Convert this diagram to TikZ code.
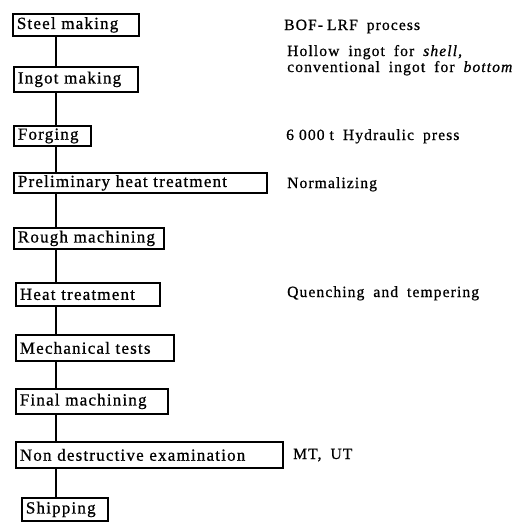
\documentclass[tikz,border=0pt]{standalone}
\usepackage{fontspec}
\setmainfont{Liberation Serif}
\newfontfamily\spacedfont[LetterSpace=7,WordSpace=1.8,FakeBold=0.8]{Liberation Serif}
\begin{document}
\begin{tikzpicture}[x=1pt,y=-1pt,
  stepbox/.style={draw, line width=1.8pt, rectangle, anchor=north west,
    inner xsep=4pt, inner ysep=0pt, align=left,
    font=\spacedfont\fontsize{17}{19}\selectfont},
  note/.style={anchor=base west, inner sep=0pt, align=left,
    font=\spacedfont\fontsize{15.6}{16}\selectfont},
  link/.style={line width=2.6pt}]
\useasboundingbox (0,0) rectangle (518,522);
\coordinate (ax) at (56,0);
\node[stepbox, text width=118pt, minimum height=22pt] (s1) at (12,13) {Steel making};
\node[stepbox, text width=116pt, minimum height=25pt] (s2) at (13,66) {Ingot making};
\node[stepbox, text width=69pt,  minimum height=20pt] (s3) at (13,125) {Forging};
\node[stepbox, text width=245pt, minimum height=20pt] (s4) at (13,172) {Preliminary heat treatment};
\node[stepbox, text width=142pt, minimum height=21pt] (s5) at (13,227) {Rough machining};
\node[stepbox, text width=136pt, minimum height=23pt] (s6) at (15,282) {Heat treatment};
\node[stepbox, text width=150pt, minimum height=26pt] (s7) at (15,334) {Mechanical tests};
\node[stepbox, text width=144pt, minimum height=25pt] (s8) at (15,388) {Final machining};
\node[stepbox, text width=259pt, minimum height=26pt] (s9) at (15,441) {Non destructive examination};
\node[stepbox, text width=78pt,  minimum height=23pt] (s10) at (21,497) {Shipping};
\foreach \a/\b in {s1/s2,s2/s3,s3/s4,s4/s5,s5/s6,s6/s7,s7/s8,s8/s9,s9/s10}
  \draw[link] (\a.south -| ax) -- (\b.north -| ax);
\node[note] (n1) at (284,30) {BOF-\hspace{4pt}LRF process};
\node[note] (n2) at (287,72) {Hollow ingot for \textit{shell,}\\conventional ingot for \textit{bottom}};
\node[note] (n3) at (286,140) {6\hspace{5pt}000\hspace{5pt}t Hydraulic press};
\node[note] (n4) at (287,188) {Normalizing};
\node[note] (n5) at (287,297) {Quenching and tempering};
\node[note] (n6) at (293,459) {MT, UT};
\end{tikzpicture}
\end{document}
